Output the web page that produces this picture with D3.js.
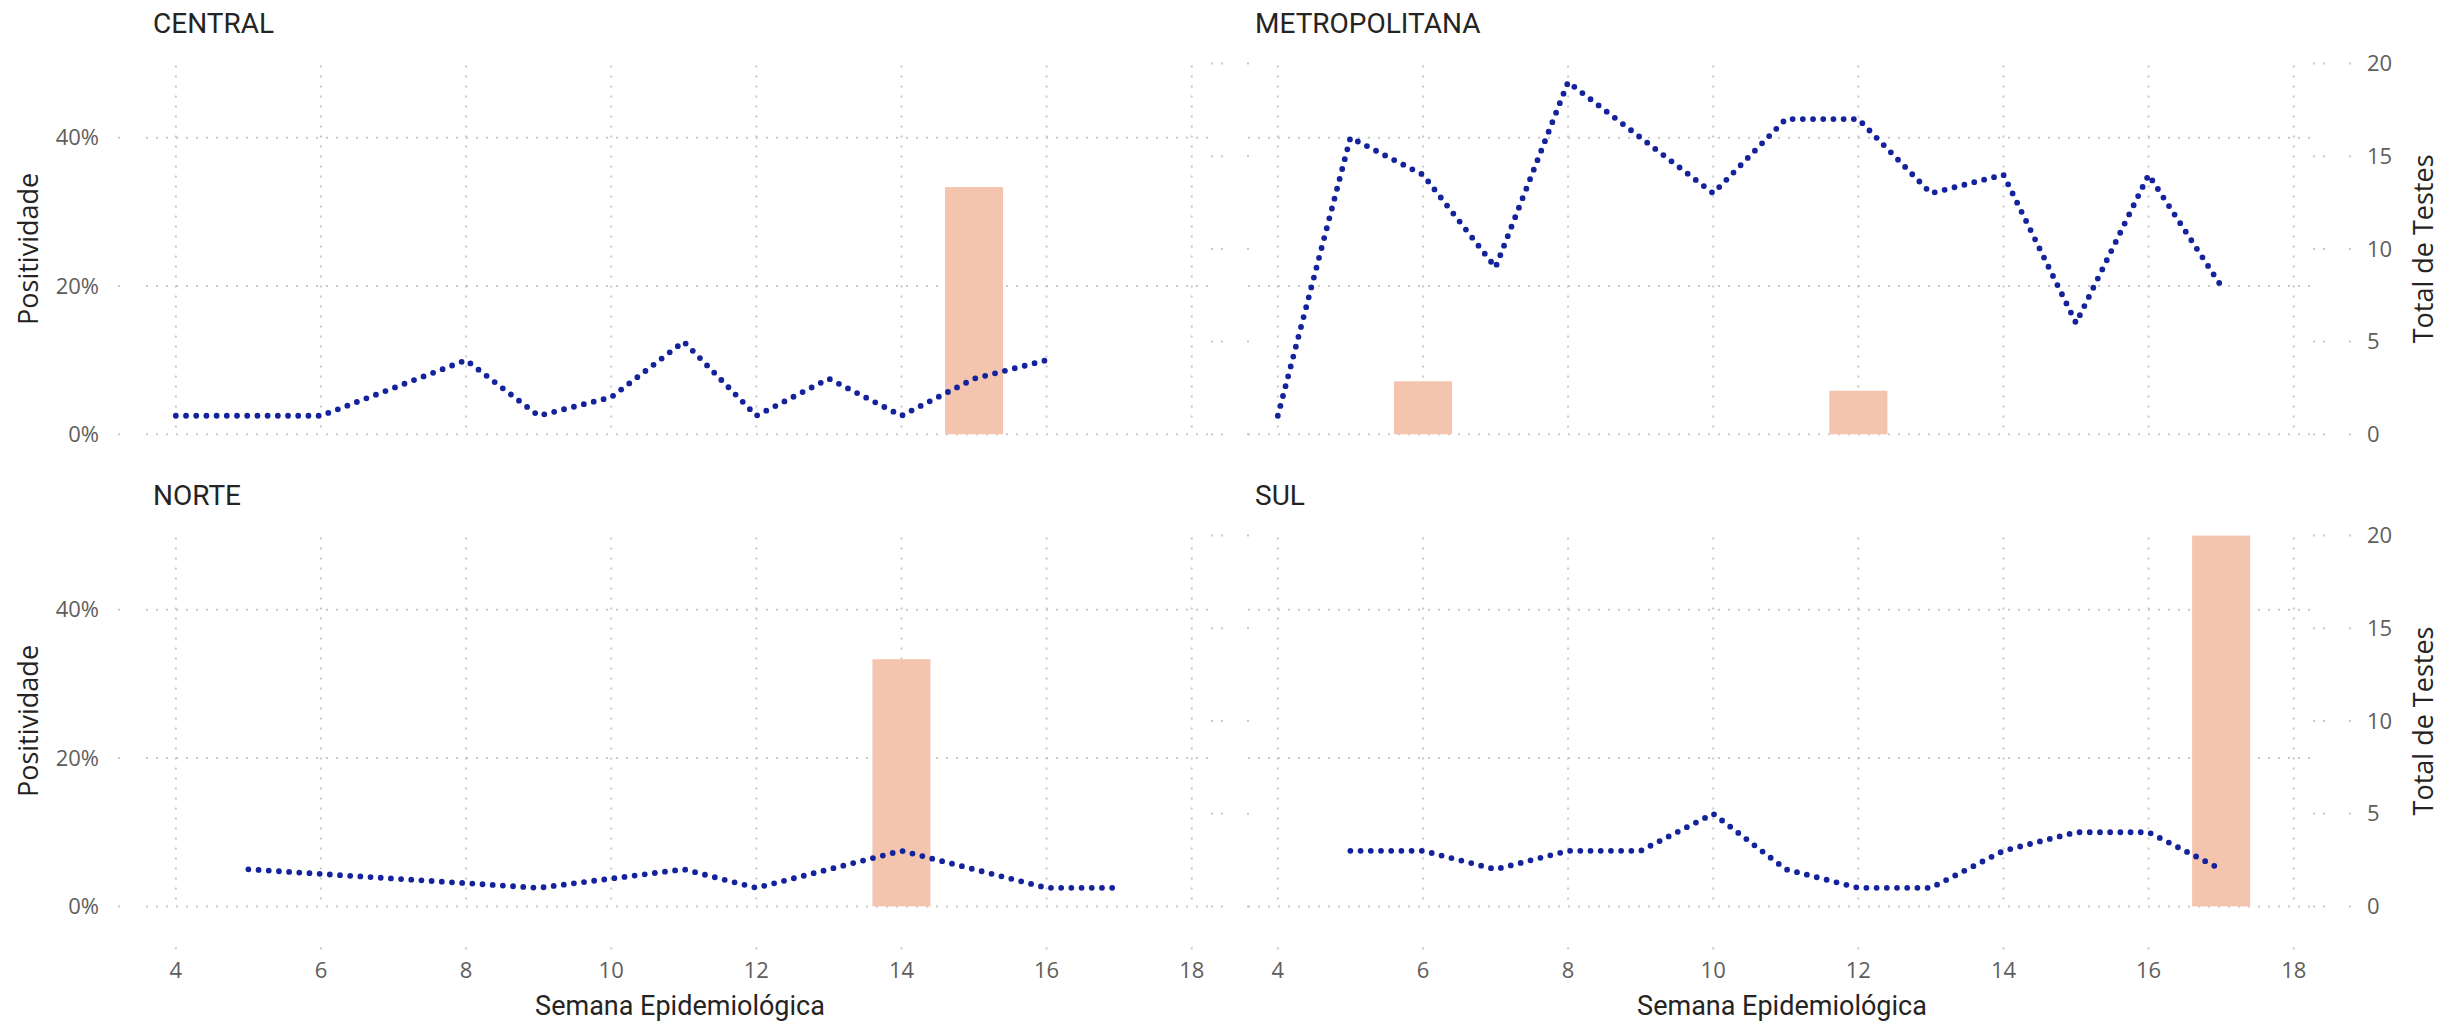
<!DOCTYPE html>
<html>
<head>
<meta charset="utf-8">
<script src="https://cdn.jsdelivr.net/npm/d3@7"></script>
<style>
  body { margin: 0; background: #fff; }
  .tick-label { font-family: "Open Sans", sans-serif; font-size: 22px; fill: #605e5c; }
  .axis-title { font-family: "Open Sans", sans-serif; font-size: 27px; fill: #252423; }
  .x-title { font-family: Roboto, sans-serif; font-size: 27px; fill: #252423; }
  .facet-title { font-family: Roboto, sans-serif; font-size: 28px; fill: #252423; }
</style>
</head>
<body>
<div id="chart"></div>
<script>
// Globals / data
var regions = ["CENTRAL", "METROPOLITANA", "NORTE", "SUL"];
var weekTicks = [4, 6, 8, 10, 12, 14, 16, 18];
var posTicks = [0, 0.2, 0.4];
var testTicks = [0, 5, 10, 15, 20];

// total de testes por semana (linha pontilhada)
var centralWeeks = [4, 5, 6, 8, 9, 10, 11, 12, 13, 14, 15, 16];
var centralTests = [1, 1, 1, 4, 1, 2, 5, 1, 3, 1, 3, 4];
var metroWeeks = [4, 5, 6, 7, 8, 9, 10, 11, 12, 13, 14, 15, 16, 17];
var metroTests = [1, 16, 14, 9, 19, 16, 13, 17, 17, 13, 14, 6, 14, 8];
var norteWeeks = [5, 9, 11, 12, 14, 16, 17];
var norteTests = [2, 1, 2, 1, 3, 1, 1];
var sulWeeks = [5, 6, 7, 8, 9, 10, 11, 12, 13, 14, 15, 16, 17];
var sulTests = [3, 3, 2, 3, 3, 5, 2, 1, 1, 3, 4, 4, 2];

// positividade por semana (barras)
var centralPosWeeks = [15];
var centralPos = [1 / 3];
var metroPosWeeks = [6, 12];
var metroPos = [1 / 14, 1 / 17];
var nortePosWeeks = [14];
var nortePos = [1 / 3];
var sulPosWeeks = [17];
var sulPos = [1 / 2];

var testsPerPos = 40; // sec axis: 20 testes == 50%

var W = 2456, H = 1023;
var colX = [[146, 1214], [1248, 2316]];
var rowY = [[63.5, 434.3], [535.6, 906.4]];
var xDomain = [3.589, 18.307];

function zip(weeks, vals, key){
  return weeks.map(function(w, i){
    var row = {week: w};
    row[key] = vals[i];
    return row;
  });
}

var panels = [
  {name: regions[0], col: 0, row: 0, line: zip(centralWeeks, centralTests, "tests"), bars: zip(centralPosWeeks, centralPos, "pos")},
  {name: regions[1], col: 1, row: 0, line: zip(metroWeeks, metroTests, "tests"), bars: zip(metroPosWeeks, metroPos, "pos")},
  {name: regions[2], col: 0, row: 1, line: zip(norteWeeks, norteTests, "tests"), bars: zip(nortePosWeeks, nortePos, "pos")},
  {name: regions[3], col: 1, row: 1, line: zip(sulWeeks, sulTests, "tests"), bars: zip(sulPosWeeks, sulPos, "pos")}
];

var svg = d3.select("#chart")
  .append("svg")
    .attr("width", W)
    .attr("height", H)
    .style("display", "block");

svg.append("rect").attr("width", W).attr("height", H).attr("fill", "#fff");

panels.forEach(function(p){ drawPanel(p); });

function drawPanel(p){
  var xr = colX[p.col], yr = rowY[p.row];
  var x = d3.scaleLinear().domain(xDomain).range(xr);
  var y = d3.scaleLinear().domain([0, 0.5]).range([yr[1], yr[0]]);
  var yT = d3.scaleLinear().domain([0, 0.5 * testsPerPos]).range([yr[1], yr[0]]);
  var g = svg.append("g");

  // grid
  g.selectAll(".hgrid")
    .data(posTicks)
    .enter().append("line")
      .attr("x1", xr[0]).attr("x2", xr[1])
      .attr("y1", function(d){ return y(d); })
      .attr("y2", function(d){ return y(d); })
      .attr("stroke", "#c8c8c8")
      .attr("stroke-width", 2)
      .attr("stroke-dasharray", "2,8");
  g.selectAll(".vgrid")
    .data(weekTicks)
    .enter().append("line")
      .attr("x1", function(d){ return x(d); })
      .attr("x2", function(d){ return x(d); })
      .attr("y1", yr[0] + 2).attr("y2", yr[1])
      .attr("stroke", "#c8c8c8")
      .attr("stroke-width", 2)
      .attr("stroke-dasharray", "2,8");

  // secondary axis ticks (dotted)
  g.selectAll(".rtick")
    .data(testTicks)
    .enter().append("line")
      .attr("x1", xr[1] - 3).attr("x2", xr[1] + 35)
      .attr("y1", function(d){ return yT(d); })
      .attr("y2", function(d){ return yT(d); })
      .attr("stroke", "#c8c8c8")
      .attr("stroke-width", 2)
      .attr("stroke-dasharray", "2,8,2,24");

  // bars: positividade
  var bw = x(xDomain[0] + 0.8) - x(xDomain[0]);
  g.selectAll(".bar")
    .data(p.bars)
    .enter().append("rect")
      .attr("x", function(d){ return x(d.week) - bw / 2; })
      .attr("width", bw)
      .attr("y", function(d){ return y(d.pos); })
      .attr("height", function(d){ return y(0) - y(d.pos); })
      .attr("fill", "#f3c4ae");

  // line: total de testes
  var line = d3.line()
    .x(function(d){ return x(d.week); })
    .y(function(d){ return yT(d.tests); });
  g.append("path")
    .datum(p.line)
    .attr("d", line)
    .attr("fill", "none")
    .attr("stroke", "#14239b")
    .attr("stroke-width", 5.8)
    .attr("stroke-linecap", "round")
    .attr("stroke-dasharray", "0,10.2");

  // facet title
  g.append("text")
    .attr("class", "facet-title")
    .attr("x", xr[0] + 7)
    .attr("y", yr[0] - 31)
    .text(p.name);

  // left axis (first column)
  if(p.col === 0){
    g.selectAll(".ltick")
      .data(posTicks)
      .enter().append("line")
        .attr("x1", xr[0] - 28).attr("x2", xr[0] - 26)
        .attr("y1", function(d){ return y(d); })
        .attr("y2", function(d){ return y(d); })
        .attr("stroke", "#c8c8c8")
        .attr("stroke-width", 2);
    g.selectAll(".llab")
      .data(posTicks)
      .enter().append("text")
        .attr("class", "tick-label")
        .attr("x", 99)
        .attr("y", function(d){ return y(d); })
        .attr("dy", "0.35em")
        .attr("text-anchor", "end")
        .text(d3.format(".0%"));
    g.append("text")
      .attr("class", "axis-title")
      .attr("transform", "translate(38," + ((yr[0] + yr[1]) / 2) + ") rotate(-90)")
      .attr("text-anchor", "middle")
      .text("Positividade");
  }

  // right axis (second column)
  if(p.col === 1){
    g.selectAll(".rlab")
      .data(testTicks)
      .enter().append("text")
        .attr("class", "tick-label")
        .attr("x", 2367)
        .attr("y", function(d){ return yT(d); })
        .attr("dy", "0.35em")
        .text(function(d){ return d; });
    g.append("text")
      .attr("class", "axis-title")
      .attr("transform", "translate(2433," + ((yr[0] + yr[1]) / 2) + ") rotate(-90)")
      .attr("text-anchor", "middle")
      .text("Total de Testes");
  }

  // bottom axis (second row)
  if(p.row === 1){
    g.selectAll(".btick")
      .data(weekTicks)
      .enter().append("line")
        .attr("x1", function(d){ return x(d); })
        .attr("x2", function(d){ return x(d); })
        .attr("y1", yr[1] + 41).attr("y2", yr[1] + 43)
        .attr("stroke", "#c8c8c8")
        .attr("stroke-width", 2);
    g.selectAll(".blab")
      .data(weekTicks)
      .enter().append("text")
        .attr("class", "tick-label")
        .attr("x", function(d){ return x(d); })
        .attr("y", yr[1] + 64)
        .attr("dy", "0.35em")
        .attr("text-anchor", "middle")
        .text(function(d){ return d; });
    g.append("text")
      .attr("class", "x-title")
      .attr("x", (xr[0] + xr[1]) / 2)
      .attr("y", 1015)
      .attr("text-anchor", "middle")
      .text("Semana Epidemiológica");
  }
}
</script>
</body>
</html>
